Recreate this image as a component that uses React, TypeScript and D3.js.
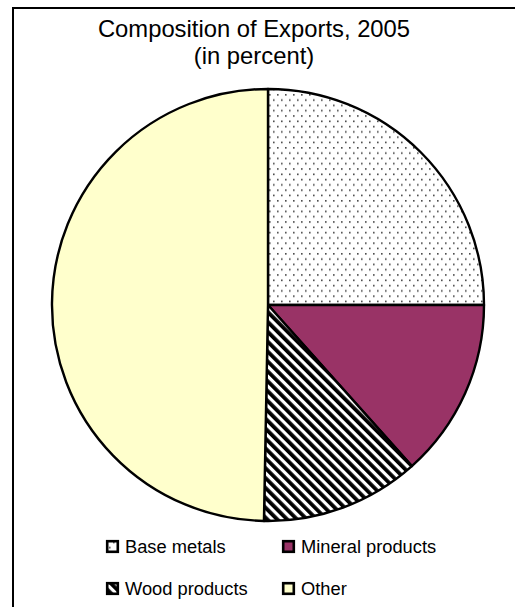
import React from "react";
import * as d3 from "d3";

const categories = ["Base metals", "Mineral products", "Wood products", "Other"];
const values = [25.0, 13.4, 11.9, 49.7];
const fills = ["url(#dots)", "#993366", "url(#hatch)", "#FFFFCC"];
const titleLines = ["Composition of Exports, 2005", "(in percent)"];

export default function App() {
  const W = 515, H = 607;
  const cx = 268, cy = 305, r = 216;
  const pie = d3.pie<number>().sort(null).startAngle(0).endAngle(2 * Math.PI);
  const arcs = pie(values);
  const arcGen = d3.arc<d3.PieArcDatum<number>>().innerRadius(0).outerRadius(r);

  const legendPos = [
    { x: 106, y: 541 },
    { x: 282, y: 541 },
    { x: 106, y: 583 },
    { x: 282, y: 583 },
  ];

  return (
    <svg width={W} height={H} style={{ position: "absolute", left: 0, top: 0 }}
      fontFamily="'Liberation Sans', Arial, sans-serif">
      <defs>
        <pattern id="dots" patternUnits="userSpaceOnUse" width={8} height={10.6}>
          <rect width={8} height={10.6} fill="#fff" />
          <rect x={1} y={1} width={1.6} height={1.6} fill="#444" />
          <rect x={5} y={6.3} width={1.6} height={1.6} fill="#444" />
        </pattern>
        <pattern id="hatch" patternUnits="userSpaceOnUse" width={7} height={7}
          patternTransform="rotate(-45)">
          <rect width={7} height={7} fill="#fff" />
          <rect x={0} y={0} width={3.8} height={7} fill="#000" />
        </pattern>
      </defs>
      <rect x={13} y={8} width={W} height={H} fill="#fff" stroke="#000" strokeWidth={2} />
      {titleLines.map((t, i) => (
        <text key={i} x={254} y={37 + i * 27} textAnchor="middle" fontSize={23.8} fill="#000">
          {t}
        </text>
      ))}
      <g transform={`translate(${cx},${cy})`}>
        {arcs.map((a, i) => (
          <path key={i} d={arcGen(a) || ""} fill={fills[i]} stroke="#000" strokeWidth={2.4}
            strokeLinejoin="round" />
        ))}
      </g>
      {categories.map((c, i) => (
        <g key={c}>
          <rect x={legendPos[i].x + 1.2} y={legendPos[i].y + 0.2} width={10.6} height={10.6}
            fill={fills[i]} stroke="#000" strokeWidth={2.6} />
          <text x={legendPos[i].x + 19} y={legendPos[i].y + 12} fontSize={18.3} fill="#000">
            {c}
          </text>
        </g>
      ))}
    </svg>
  );
}
